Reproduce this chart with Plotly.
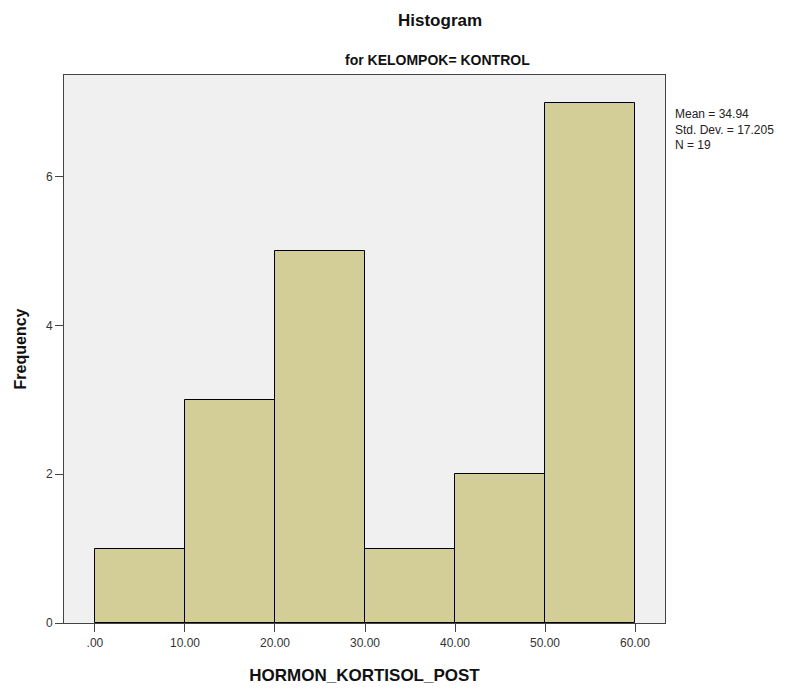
"""SPSS-style histogram of HORMON_KORTISOL_POST for the control group."""

import plotly.graph_objects as go

# Histogram data
bin_starts = [0, 10, 20, 30, 40, 50]
bin_width = 10
counts = [1, 3, 5, 1, 2, 7]
x_tick_vals = [0, 10, 20, 30, 40, 50, 60]
x_tick_text = [".00", "10.00", "20.00", "30.00", "40.00", "50.00", "60.00"]
y_tick_vals = [0, 2, 4, 6]
stats_lines = ["Mean = 34.94", "Std. Dev. = 17.205", "N = 19"]

FONT = "Liberation Sans, Arial, sans-serif"
BAR_COLOR = "#d3ce97"
AXIS_COLOR = "#444444"

centers = [s + bin_width / 2 for s in bin_starts]

fig = go.Figure()
fig.add_trace(
    go.Bar(
        x=centers,
        y=counts,
        width=[bin_width] * len(counts),
        marker=dict(color=BAR_COLOR, line=dict(color="#000000", width=1)),
        showlegend=False,
    )
)

# page body adds an 8px margin, so the figure is 8px smaller on each axis
fig.update_layout(
    width=798,
    height=685,
    margin=dict(l=55, r=141, t=67, b=64),
    paper_bgcolor="white",
    plot_bgcolor="#f0f0f0",
    font=dict(family=FONT, color="#222222"),
    bargap=0,
)

fig.update_xaxes(
    range=[-3.44, 63.33],
    tickvals=x_tick_vals,
    ticktext=x_tick_text,
    ticks="outside",
    ticklen=8,
    tickcolor=AXIS_COLOR,
    ticklabelstandoff=1,
    tickfont=dict(size=12, color="#333333"),
    showgrid=False,
    zeroline=False,
    showline=True,
    linecolor=AXIS_COLOR,
    linewidth=1,
    mirror=True,
    title=dict(text="<b>HORMON_KORTISOL_POST</b>", font=dict(size=17, color="#111111"), standoff=19),
)

fig.update_yaxes(
    range=[0, 7.37],
    tickvals=y_tick_vals,
    ticks="outside",
    ticklen=8,
    tickcolor=AXIS_COLOR,
    tickfont=dict(size=12, color="#333333"),
    showgrid=False,
    zeroline=False,
    showline=True,
    linecolor=AXIS_COLOR,
    linewidth=1,
    mirror=True,
    title=dict(text="<b>Frequency</b>", font=dict(size=16, color="#111111"), standoff=15),
)

# Titles
fig.add_annotation(
    text="<b>Histogram</b>", xref="paper", yref="paper",
    x=0.626, y=1, yshift=55, xanchor="center", yanchor="middle",
    showarrow=False, font=dict(size=17, color="#111111"),
)
fig.add_annotation(
    text="<b>for KELOMPOK= KONTROL</b>", xref="paper", yref="paper",
    x=0.621, y=1, yshift=15, xanchor="center", yanchor="middle",
    showarrow=False, font=dict(size=14, color="#111111"),
)

# Summary statistics to the right of the plot
fig.add_annotation(
    text="<br>".join(stats_lines), xref="paper", yref="paper",
    x=1, xshift=8, y=1, yshift=-30, xanchor="left", yanchor="top",
    align="left", showarrow=False,
    font=dict(size=12, color="#222222"),
)

fig.write_html("out.html")
